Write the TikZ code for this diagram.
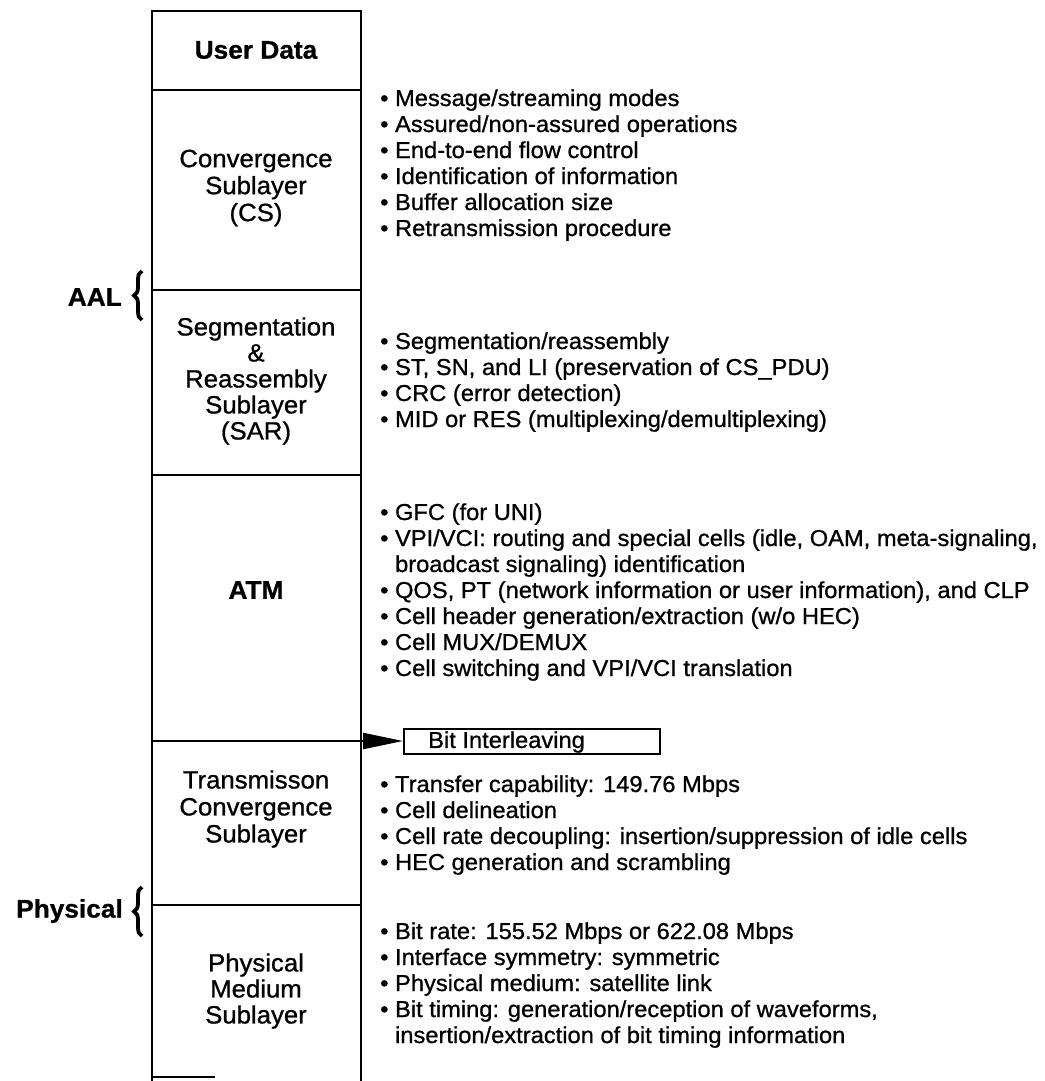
\documentclass[tikz,border=0pt]{standalone}
\usepackage{fontspec}
\setmainfont{Liberation Sans}[FakeStretch=1.03, FakeBold=0.9]
\usetikzlibrary{arrows.meta,decorations.pathreplacing}
\begin{document}
\begin{tikzpicture}[x=1pt,y=-1pt,
  lbl/.style={font=\fontsize{25}{27}\selectfont, align=center, inner sep=0pt},
  blbl/.style={font=\fontsize{25.5}{27}\selectfont\bfseries, inner sep=0pt},
  item/.style={font=\fontsize{23}{26}\selectfont, anchor=base west, inner sep=0pt},
  frame/.style={line width=2.4pt, line cap=round},
  brc/.style={decorate, decoration={brace, amplitude=8pt}, line width=3.8pt},
]
\useasboundingbox (0,0) rectangle (1044,1081);

% column frame
\coordinate (tl) at (152,11);
\coordinate (tr) at (361,11);
\coordinate (bl) at (152,1081);
\coordinate (br) at (361,1081);
\draw[frame] (bl) -- (tl) -- (tr) -- (br);
\coordinate (s1l) at (152,90);   \coordinate (s1r) at (361,90);
\coordinate (s2l) at (152,290);  \coordinate (s2r) at (361,290);
\coordinate (s3l) at (152,475);  \coordinate (s3r) at (361,475);
\coordinate (s4l) at (152,741);
\coordinate (s5l) at (152,905);  \coordinate (s5r) at (361,905);
\coordinate (b1) at (152,1077);  \coordinate (b2) at (215,1077);
\draw[frame] (s1l) -- (s1r);
\draw[frame] (s2l) -- (s2r);
\draw[frame] (s3l) -- (s3r);
\draw[frame] (s5l) -- (s5r);
\draw[line width=1.6pt] (b1) -- (b2);

% Bit interleaving box and arrow
\node[draw, line width=2pt, minimum width=256pt, minimum height=25pt, anchor=west, inner sep=0pt] (bi) at (403,741) {};
\node[item, anchor=west] (bit) at (428,742) {Bit Interleaving};
\draw[frame, -{Triangle[length=40pt,width=16pt]}] (s4l) -- (bi.west);

% column labels
\node[blbl] (ud) at (256,50) {User Data};
\node[lbl] (cs) at (256,188) {Convergence\\Sublayer\\(CS)};
\node[lbl, font=\fontsize{25}{26}\selectfont] (sar) at (256,381) {Segmentation\\\&\\Reassembly\\Sublayer\\(SAR)};
\node[blbl] (atm) at (256,590) {ATM};
\node[lbl] (tc) at (256,809) {Transmisson\\Convergence\\Sublayer};
\node[lbl, font=\fontsize{25}{26}\selectfont] (pm) at (256,991) {Physical\\Medium\\Sublayer};

% side labels and braces
\node[blbl, anchor=east] (aal) at (122,297) {AAL};
\coordinate (aalb1) at (142,320);
\coordinate (aalb2) at (142,271);
\draw[brc] (aalb1) -- (aalb2);
\node[blbl, anchor=east] (phy) at (123,911) {Physical};
\coordinate (phyb1) at (142,936);
\coordinate (phyb2) at (142,887);
\draw[brc] (phyb1) -- (phyb2);

% bullets CS
\node[item] (cs1) at (380,106) {• Message/streaming modes};
\node[item] (cs2) at (380,132) {• Assured/non-assured operations};
\node[item] (cs3) at (380,158) {• End-to-end flow control};
\node[item] (cs4) at (380,184) {• Identification of information};
\node[item] (cs5) at (380,210) {• Buffer allocation size};
\node[item] (cs6) at (380,236) {• Retransmission procedure};

% bullets SAR
\node[item] (sar1) at (380,349) {• Segmentation/reassembly};
\node[item] (sar2) at (380,375) {• ST, SN, and LI (preservation of CS\_PDU)};
\node[item] (sar3) at (380,401) {• CRC (error detection)};
\node[item] (sar4) at (380,427) {• MID or RES (multiplexing/demultiplexing)};

% bullets ATM
\node[item] (atm1) at (380,520) {• GFC (for UNI)};
\node[item] (atm2) at (380,546) {• VPI/VCI: routing and special cells (idle, OAM, meta-signaling,};
\node[item] (atm2b) at (380,572) {\hphantom{•} broadcast signaling) identification};
\node[item] (atm3) at (380,598) {• QOS, PT (network information or user information), and CLP};
\node[item] (atm4) at (380,624) {• Cell header generation/extraction (w/o HEC)};
\node[item] (atm5) at (380,650) {• Cell MUX/DEMUX};
\node[item] (atm6) at (380,676) {• Cell switching and VPI/VCI translation};

% bullets TC
\node[item] (tc1) at (380,792) {• Transfer capability: 149.76 Mbps};
\node[item] (tc2) at (380,818) {• Cell delineation};
\node[item] (tc3) at (380,844) {• Cell rate decoupling: insertion/suppression of idle cells};
\node[item] (tc4) at (380,870) {• HEC generation and scrambling};

% bullets PM
\node[item] (pm1) at (380,939) {• Bit rate: 155.52 Mbps or 622.08 Mbps};
\node[item] (pm2) at (380,965) {• Interface symmetry: symmetric};
\node[item] (pm3) at (380,991) {• Physical medium: satellite link};
\node[item] (pm4) at (380,1017) {• Bit timing: generation/reception of waveforms,};
\node[item] (pm4b) at (380,1043) {\hphantom{•} insertion/extraction of bit timing information};
\end{tikzpicture}
\end{document}
